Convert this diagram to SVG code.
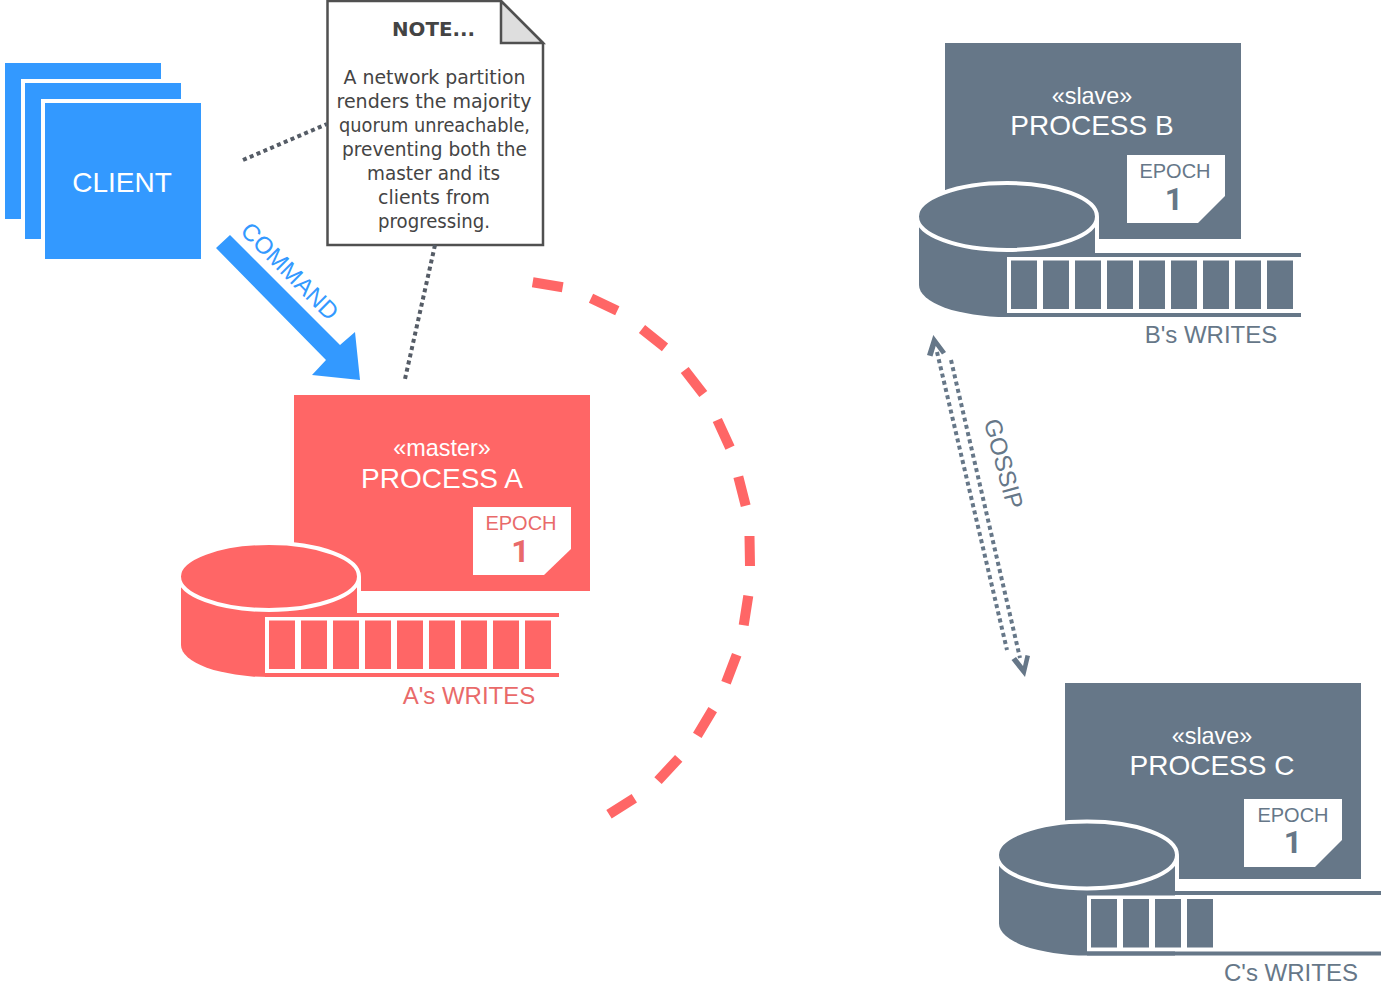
<svg xmlns="http://www.w3.org/2000/svg" width="1394" height="994" viewBox="0 0 1394 994">
<style>
text{font-family:"Liberation Sans",Arial,sans-serif;text-anchor:middle}
.red{fill:#ff6666}.slate{fill:#667788}.blue{fill:#3399ff}
.wt{fill:#fff}
.ste{font-size:23.4px;fill:#fff}
.nm{font-size:28px;fill:#fff}
.ep{font-size:20px}
.one{font-size:32px;font-weight:bold;font-family:Roboto,"Liberation Sans",sans-serif}
.wr{font-size:24px}
.tr{fill:#e96a6a}.ts{fill:#667788}
.dot{fill:none;stroke-width:4;stroke-dasharray:4 3.4}
.note{font-family:"DejaVu Sans",sans-serif;font-size:19px;fill:#444;text-anchor:start}
</style>
<defs>
<g id="cyl">
<rect x="357" y="577" width="4" height="36" fill="#fff"/>
<path d="M181,577V645A88,32 0 0 0 269,677H357V577Z"/>
<ellipse cx="269" cy="576.5" rx="90" ry="33.5" stroke="#fff" stroke-width="4"/>
</g>
<g id="cells">
<rect x="265" y="617" width="290" height="56" fill="#fff"/>
<rect x="265" y="673" width="294" height="4"/>
<rect x="269" y="620.5" width="26" height="48.5"/><rect x="301" y="620.5" width="26" height="48.5"/><rect x="333" y="620.5" width="26" height="48.5"/><rect x="365" y="620.5" width="26" height="48.5"/>
</g>
<g id="cells5">
<rect x="397" y="620.5" width="26" height="48.5"/><rect x="429" y="620.5" width="26" height="48.5"/><rect x="461" y="620.5" width="26" height="48.5"/><rect x="493" y="620.5" width="26" height="48.5"/><rect x="525" y="620.5" width="26" height="48.5"/>
</g>
</defs>

<g id="client">
<rect class="blue" x="5" y="63" width="156" height="156"/>
<rect class="wt" x="21" y="79" width="164" height="164"/>
<rect class="blue" x="25" y="83" width="156" height="156"/>
<rect class="wt" x="41" y="99" width="164" height="164"/>
<rect class="blue" x="45" y="103" width="156" height="156"/>
<text x="122" y="192" font-size="28" fill="#fff">CLIENT</text>
</g>

<g id="note">
<path d="M327.500,1H501L543,43V245H327.500Z" fill="#fff" stroke="#505050" stroke-width="2.500"/>
<path d="M501,1V43H543Z" fill="#dedede" stroke="#505050" stroke-width="2.500"/>
<text class="note" x="392" y="36" font-weight="bold" textLength="83" lengthAdjust="spacingAndGlyphs">NOTE...</text>
<text class="note" x="343.500" y="84" textLength="182" lengthAdjust="spacingAndGlyphs">A network partition</text>
<text class="note" x="336.500" y="108" textLength="195" lengthAdjust="spacingAndGlyphs">renders the majority</text>
<text class="note" x="339" y="132" textLength="191" lengthAdjust="spacingAndGlyphs">quorum unreachable,</text>
<text class="note" x="342" y="156" textLength="185" lengthAdjust="spacingAndGlyphs">preventing both the</text>
<text class="note" x="367" y="180" textLength="133" lengthAdjust="spacingAndGlyphs">master and its</text>
<text class="note" x="378" y="204" textLength="112" lengthAdjust="spacingAndGlyphs">clients from</text>
<text class="note" x="378" y="228" textLength="112" lengthAdjust="spacingAndGlyphs">progressing.</text>
</g>

<g id="process-a">
<rect class="red" x="294" y="395" width="296" height="196"/>
<path class="wt" d="M473,507H571V549L544,575H473Z"/>
<text class="ste" x="442" y="456">«master»</text>
<text class="nm" x="442" y="488">PROCESS A</text>
<text class="ep tr" x="521" y="530">EPOCH</text>
<text class="one tr" x="520.500" y="562">1</text>
<use href="#cyl" class="red"/>
<g class="red">
<rect x="357" y="613" width="202" height="4"/>
<use href="#cells"/><use href="#cells5"/>
</g>
<text class="wr tr" x="469" y="704">A's WRITES</text>
</g>

<g id="process-b">
<rect class="slate" x="945" y="43" width="296" height="196"/>
<path class="wt" d="M1127,155H1225V196L1198,223H1127Z"/>
<text class="ste" x="1092" y="104">«slave»</text>
<text class="nm" x="1092" y="135">PROCESS B</text>
<text class="ep ts" x="1175" y="178">EPOCH</text>
<text class="one ts" x="1174" y="210">1</text>
<use href="#cyl" class="slate" transform="translate(738,-360)"/>
<g class="slate" transform="translate(742,-360)">
<rect x="353" y="613" width="206" height="4"/>
<use href="#cells"/><use href="#cells5"/>
</g>
<text class="wr ts" x="1211" y="343">B's WRITES</text>
</g>

<g id="process-c">
<rect class="slate" x="1065" y="683" width="296" height="196"/>
<path class="wt" d="M1244,799H1342V840L1315,867H1244Z"/>
<text class="ste" x="1212" y="744">«slave»</text>
<text class="nm" x="1212" y="775">PROCESS C</text>
<text class="ep ts" x="1293" y="822">EPOCH</text>
<text class="one ts" x="1293" y="853">1</text>
<use href="#cyl" class="slate" transform="translate(818,278.500)"/>
<g class="slate" transform="translate(822,278.500)">
<rect x="353" y="612.500" width="206" height="4"/>
<use href="#cells"/>
</g>
<text class="wr ts" x="1291" y="981">C's WRITES</text>
</g>

<g id="connectors">
<path class="dot" stroke="#555c66" d="M243,160L327,124"/>
<path class="dot" stroke="#555c66" d="M435,245L405,379"/>
<polygon class="blue" points="216,248 230,235 340,345 355,332 360,380 312,375 326,360"/>
<text transform="translate(284,277) rotate(45)" font-size="24" fill="#3399ff">COMMAND</text>
<path fill="none" stroke="#ff6666" stroke-width="10" d="M532.7,282.3L562.7,287.3M591,298.3L617.3,310.7M642,329L665,347.3M684.7,370L703.3,394M717.3,420L730,447.7M738.3,476.7L745.7,505.7M749.5,536L750,566M748.3,595.7L743.7,625.3M736.7,654.7L726,682.7M712.7,709.7L697.3,735.3M678.7,758.3L658,780.7M634.3,798.3L609,814.3"/>
<path class="dot" stroke="#667788" d="M937,352L1007,650"/>
<path class="dot" stroke="#667788" d="M951,360L1020,658"/>
<polygon class="slate" points="933.300,335 946,352 942,354.500 935.700,346 932.500,356.500 927,355"/>
<polygon class="slate" points="1025,677 1011.500,660 1016,657 1023,666 1025.500,655 1030,656"/>
<text transform="translate(995.700,466) rotate(75)" font-size="24" fill="#667788">GOSSIP</text>
</g>
</svg>
